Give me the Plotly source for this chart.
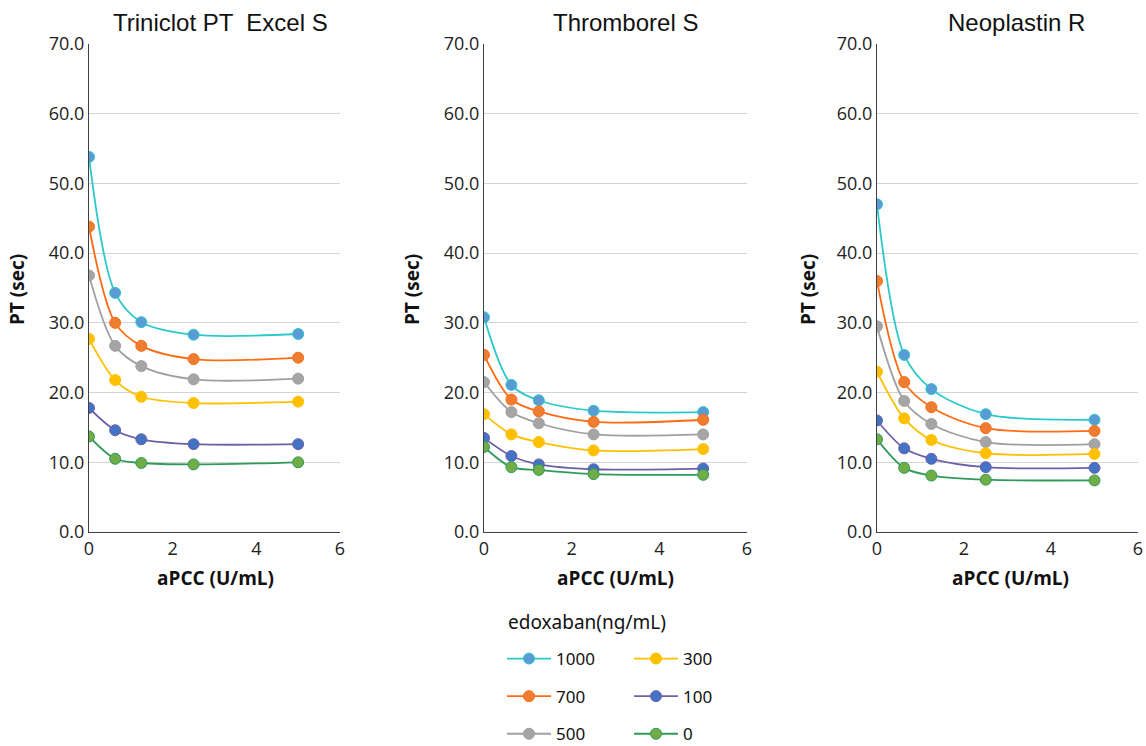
import plotly.graph_objects as go

apcc = [0, 0.625, 1.25, 2.5, 5]
doses = ["1000", "700", "500", "300", "100", "0"]

triniclot = {
    "1000": [53.8, 34.3, 30.1, 28.3, 28.4],
    "700": [43.8, 30.0, 26.7, 24.8, 25.0],
    "500": [36.8, 26.7, 23.8, 21.9, 22.0],
    "300": [27.7, 21.8, 19.4, 18.5, 18.7],
    "100": [17.8, 14.6, 13.3, 12.6, 12.6],
    "0": [13.7, 10.5, 9.9, 9.7, 10.0],
}
thromborel = {
    "1000": [30.8, 21.1, 18.9, 17.4, 17.2],
    "700": [25.4, 19.0, 17.3, 15.8, 16.1],
    "500": [21.5, 17.2, 15.6, 14.0, 14.0],
    "300": [16.9, 14.0, 12.9, 11.7, 11.9],
    "100": [13.5, 10.9, 9.7, 9.0, 9.1],
    "0": [12.2, 9.3, 8.9, 8.3, 8.2],
}
neoplastin = {
    "1000": [47.0, 25.4, 20.5, 16.9, 16.1],
    "700": [36.0, 21.5, 17.9, 14.9, 14.5],
    "500": [29.5, 18.8, 15.5, 12.9, 12.6],
    "300": [23.0, 16.3, 13.2, 11.3, 11.2],
    "100": [16.0, 12.0, 10.5, 9.3, 9.2],
    "0": [13.3, 9.2, 8.1, 7.5, 7.4],
}
panels = [("Triniclot PT  Excel S", triniclot), ("Thromborel S", thromborel), ("Neoplastin R", neoplastin)]

line_colors = {"1000": "#2CC9CB", "700": "#FF6A13", "500": "#A0A0A0", "300": "#FFC000", "100": "#6A62A8", "0": "#2E9B5A"}
marker_colors = {"1000": "#5B9BD5", "700": "#ED7D31", "500": "#A5A5A5", "300": "#FFC000", "100": "#4472C4", "0": "#70AD47"}

W, H = 1146, 746
xdoms = [(89, 340), (484, 747), (877, 1138)]
ytop, ybot = 44, 532
ydom = [1 - ybot / H, 1 - ytop / H]

fig = go.Figure()
for i, (title, data) in enumerate(panels):
    xa = "x" if i == 0 else f"x{i+1}"
    ya = "y" if i == 0 else f"y{i+1}"
    for d in doses:
        fig.add_trace(go.Scatter(
            x=apcc, y=data[d], mode="lines+markers", name=d,
            line=dict(color=line_colors[d], width=1.8, shape="spline", smoothing=0.9),
            marker=dict(color=marker_colors[d], size=11, line=dict(color=line_colors[d], width=1)),
            xaxis=xa, yaxis=ya, showlegend=(i == 0),
            legend="legend" if d in ("1000", "700", "500") else "legend2",
            legendgroup=d,
        ))

font_tick = "Open Sans, Noto Sans, sans-serif"
for i, (x0, x1) in enumerate(xdoms):
    sfx = "" if i == 0 else str(i + 1)
    fig.layout["xaxis" + sfx] = dict(
        domain=[x0 / W, x1 / W], range=[0, 6], tickvals=[0, 2, 4, 6],
        showgrid=False, zeroline=False, showline=True, linecolor="#404040", linewidth=1.3,
        ticks="", ticklen=0, tickfont=dict(family=font_tick, size=18, color="#222"),
        anchor="y" + sfx, fixedrange=True, automargin=False,
    )
    fig.layout["yaxis" + sfx] = dict(
        domain=ydom, range=[0, 70], tickvals=[0, 10, 20, 30, 40, 50, 60, 70],
        ticktext=[f"{v:.1f}" for v in [0, 10, 20, 30, 40, 50, 60, 70]],
        showgrid=True, gridcolor="#D4D4D4", gridwidth=1, zeroline=False,
        showline=True, linecolor="#404040", linewidth=1.3, ticks="",
        tickfont=dict(family=font_tick, size=18, color="#222"),
        anchor="x" + sfx, fixedrange=True, automargin=False,
    )

annots = []
title_cx = [220, 625, 1016]
xtitle_cx = [215, 615, 1010]
ytitle_cx = [17, 412, 808]
for i, (title, _) in enumerate(panels):
    annots.append(dict(text=title, x=title_cx[i] / W, y=1 - 22 / H, xref="paper", yref="paper",
                       showarrow=False, font=dict(family="Liberation Sans, Arial, sans-serif", size=24, color="#111"),
                       xanchor="center", yanchor="middle"))
    annots.append(dict(text="<b>aPCC (U/mL)</b>", x=xtitle_cx[i] / W, y=1 - 578 / H, xref="paper", yref="paper",
                       showarrow=False, font=dict(family=font_tick, size=19, color="#111"),
                       xanchor="center", yanchor="middle"))
    annots.append(dict(text="<b>PT (sec)</b>", x=ytitle_cx[i] / W, y=1 - 290 / H, xref="paper", yref="paper",
                       showarrow=False, textangle=-90, font=dict(family=font_tick, size=19, color="#111"),
                       xanchor="center", yanchor="middle"))
annots.append(dict(text="edoxaban(ng/mL)", x=587 / W, y=1 - 622 / H, xref="paper", yref="paper",
                   showarrow=False, font=dict(family="Noto Sans, sans-serif", size=19, color="#111"),
                   xanchor="center", yanchor="middle"))

leg_common = dict(orientation="v", bgcolor="rgba(0,0,0,0)", font=dict(family="Noto Sans, sans-serif", size=17, color="#111"),
                  itemwidth=44, tracegroupgap=12.5, yanchor="top", xanchor="left", itemclick=False, itemdoubleclick=False)
fig.update_layout(
    width=W, height=H, margin=dict(l=0, r=0, t=0, b=0, autoexpand=False),
    paper_bgcolor="white", plot_bgcolor="white",
    annotations=annots,
    legend=dict(x=502 / W, y=1 - 641 / H, **leg_common),
    legend2=dict(x=629 / W, y=1 - 641 / H, **leg_common),
)
fig.write_html("out.html", config={"displayModeBar": False},
               post_script="document.body.style.margin='0';document.body.style.overflow='hidden';")
